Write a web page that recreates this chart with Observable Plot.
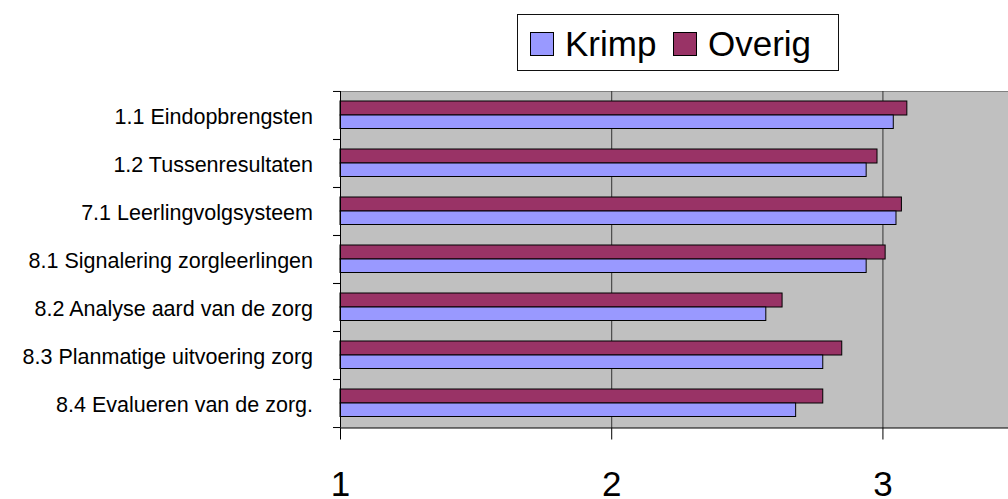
<!DOCTYPE html>
<html>
<head>
<meta charset="utf-8">
<script src="https://cdn.jsdelivr.net/npm/d3@7"></script>
<script src="https://cdn.jsdelivr.net/npm/@observablehq/plot@0.6"></script>
<style>
  html, body { margin: 0; padding: 0; background: white; }
  body { width: 1008px; height: 499px; overflow: hidden; font-family: "Liberation Sans", Arial, sans-serif; }
  #legend { position: relative; height: 85px; width: 1008px; }
  #legend .box { position: absolute; left: 517px; top: 14px; width: 320px; height: 55px; border: 1px solid #111; box-sizing: content-box; }
  #legend .sw { position: absolute; top: 17px; width: 22px; height: 22px; border: 1px solid #000; }
  #legend .lb { position: absolute; top: 11.4px; font-size: 35px; line-height: 35px; color: #000; white-space: nowrap; }
  svg { display: block; }
</style>
</head>
<body>
<div id="legend"></div>
<div id="chart"></div>
<script>
const categories = [
  "1.1 Eindopbrengsten",
  "1.2 Tussenresultaten",
  "7.1 Leerlingvolgsysteem",
  "8.1 Signalering zorgleerlingen",
  "8.2 Analyse aard van de zorg",
  "8.3 Planmatige uitvoering zorg",
  "8.4 Evalueren van de zorg."
];
const seriesNames = ["Krimp", "Overig"];
const krimp  = [3.04, 2.94, 3.05, 2.94, 2.57, 2.78, 2.68];
const overig = [3.09, 2.98, 3.07, 3.01, 2.63, 2.85, 2.78];
const xTicks = [1, 2, 3];
const colors = {Krimp: "#9999FF", Overig: "#993366"};

const xDomain = [1, 3.463];
const overigRows = categories.map((c, i) => ({category: c, series: "Overig", value: overig[i]}));
const krimpRows = categories.map((c, i) => ({category: c, series: "Krimp", value: krimp[i]}));

// Legend
const legend = document.getElementById("legend");
const box = document.createElement("div");
box.className = "box";
legend.appendChild(box);
const legendPos = {Krimp: {sw: 12, lb: 47}, Overig: {sw: 155, lb: 190}};
seriesNames.forEach(name => {
  const sw = document.createElement("div");
  sw.className = "sw";
  sw.style.left = legendPos[name].sw + "px";
  sw.style.background = colors[name];
  box.appendChild(sw);
  const lb = document.createElement("div");
  lb.className = "lb";
  lb.style.left = legendPos[name].lb + "px";
  lb.textContent = name;
  box.appendChild(lb);
});

const bandShift = (342.5 - 6) / categories.length / 2;

const chart = Plot.plot({
  width: 1008,
  height: 414,
  marginTop: 6,
  marginBottom: 71.5,
  marginLeft: 340,
  marginRight: 0,
  style: {fontFamily: "'Liberation Sans', Arial, sans-serif", background: "white", color: "black"},
  x: {domain: xDomain},
  y: {domain: categories, padding: 0},
  marks: [
    Plot.frame({fill: "#C0C0C0", stroke: "none"}),
    Plot.frame({anchor: "top", stroke: "#808080"}),
    Plot.ruleX([2, 3], {stroke: "#333"}),
    Plot.barX(overigRows, {y: "category", x1: xDomain[0], x2: "value", fill: colors.Overig, stroke: "black", strokeWidth: 1, insetTop: 10, insetBottom: 24}),
    Plot.barX(krimpRows, {y: "category", x1: xDomain[0], x2: "value", fill: colors.Krimp, stroke: "black", strokeWidth: 1, insetTop: 24, insetBottom: 10.5}),
    Plot.ruleX([1], {stroke: "black"}),
    Plot.frame({anchor: "bottom", stroke: "black"}),
    Plot.axisX({ticks: xTicks, tickSize: 12, tickPadding: 31, fontSize: 35, tickFormat: d => String(d), label: null}),
    Plot.axisY({tickSize: 0, tickPadding: 27.5, fontSize: 21.5, dy: 1.5, label: null}),
    Plot.axisY({tickSize: 7, tickFormat: () => "", dy: -bandShift, label: null}),
    Plot.axisY({tickSize: 7, tickFormat: () => "", dy: bandShift, label: null})
  ]
});
document.getElementById("chart").appendChild(chart);
</script>
</body>
</html>
